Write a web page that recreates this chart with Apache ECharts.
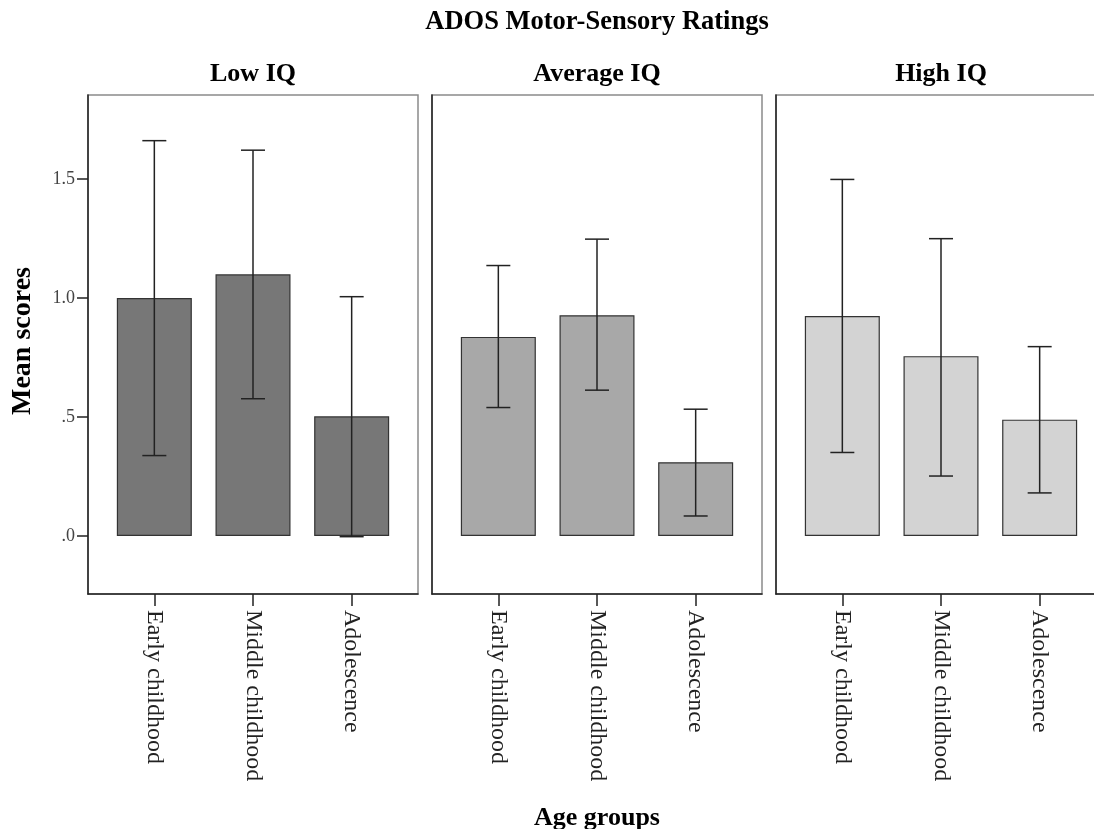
<!DOCTYPE html>
<html>
<head>
<meta charset="utf-8">
<script src="https://cdn.jsdelivr.net/npm/echarts@6/dist/echarts.min.js"></script>
<style>html,body{margin:0;padding:0;background:#fff;}#c{width:1094px;height:829px;}</style>
</head>
<body>
<div id="c"></div>
<script>
const categories = ['Early childhood', 'Middle childhood', 'Adolescence'];
const panels = ['Low IQ', 'Average IQ', 'High IQ'];
const yTicks = [0, 0.5, 1.0, 1.5];
const yMin = -0.244, yMax = 1.854;

const lowMeans  = [1.000, 1.100, 0.503];
const lowLower  = [0.338, 0.577, -0.003];
const lowUpper  = [1.662, 1.622, 1.006];

const avgMeans  = [0.837, 0.928, 0.310];
const avgLower  = [0.540, 0.613, 0.084];
const avgUpper  = [1.137, 1.248, 0.533];

const highMeans = [0.925, 0.756, 0.489];
const highLower = [0.351, 0.252, 0.181];
const highUpper = [1.499, 1.250, 0.796];

const means = [lowMeans, avgMeans, highMeans];
const lowers = [lowLower, avgLower, highLower];
const uppers = [lowUpper, avgUpper, highUpper];
const barColors = ['#777777', '#a8a8a8', '#d3d3d3'];

const SERIF = '"Liberation Serif", "Times New Roman", serif';
const frameLeft = [88, 432, 776];
const frameW = 330, gridTop = 95, gridH = 499, pad = 17;

const grid = [], xAxis = [], yAxis = [], series = [];
for (let p = 0; p < 3; p++) {
  grid.push({left: frameLeft[p], top: gridTop, width: frameW, height: gridH, show: true,
    outerBoundsMode: 'none', containLabel: false,
    borderColor: '#8a8a8a', borderWidth: 1.5, backgroundColor: '#fff'});
  grid.push({left: frameLeft[p] + pad, top: gridTop, width: frameW - 2 * pad, height: gridH,
    outerBoundsMode: 'none', containLabel: false});
}
for (let p = 0; p < 3; p++) {
  const fg = 2 * p, dg = 2 * p + 1;
  xAxis.push({type: 'value', gridIndex: fg, min: 0, max: 1, position: 'bottom',
    axisLine: {show: true, onZero: false, lineStyle: {color: '#222', width: 1.5}},
    axisTick: {show: false}, axisLabel: {show: false}, splitLine: {show: false}});
  yAxis.push({type: 'value', gridIndex: fg, min: yMin, max: yMax, position: 'left',
    axisLine: {show: true, onZero: false, lineStyle: {color: '#222', width: 1.5}},
    axisTick: {show: p === 0, length: 11, lineStyle: {color: '#222', width: 1.5}, customValues: yTicks},
    axisLabel: {show: p === 0, margin: 13, fontFamily: SERIF, fontSize: 18, color: '#444',
      customValues: yTicks,
      formatter: v => { const s = (Math.round(v * 10) / 10).toFixed(1); return s.startsWith('0') ? s.slice(1) : s; }},
    splitLine: {show: false}});
  xAxis.push({type: 'category', gridIndex: dg, data: categories, position: 'bottom',
    axisLine: {show: false, onZero: false},
    axisTick: {show: true, alignWithLabel: true, length: 12, lineStyle: {color: '#222', width: 1.5}},
    axisLabel: {rotate: -90, margin: 16, fontFamily: SERIF, fontSize: 24, color: '#222'}});
  yAxis.push({type: 'value', gridIndex: dg, min: yMin, max: yMax, show: false, splitLine: {show: false}});

  series.push({type: 'bar', xAxisIndex: dg, yAxisIndex: dg,
    data: means[p], barWidth: 75,
    itemStyle: {color: barColors[p], borderColor: '#333', borderWidth: 1.2}});
  series.push({type: 'custom', xAxisIndex: dg, yAxisIndex: dg, z: 5,
    data: categories.map((c, i) => [i, lowers[p][i], uppers[p][i]]),
    renderItem: function (params, api) {
      const lo = api.coord([api.value(0), api.value(1)]);
      const hi = api.coord([api.value(0), api.value(2)]);
      const hw = 12;
      const st = {stroke: '#222', lineWidth: 1.5};
      return {type: 'group', children: [
        {type: 'line', shape: {x1: lo[0], y1: lo[1], x2: hi[0], y2: hi[1]}, style: st},
        {type: 'line', shape: {x1: lo[0] - hw, y1: lo[1], x2: lo[0] + hw, y2: lo[1]}, style: st},
        {type: 'line', shape: {x1: hi[0] - hw, y1: hi[1], x2: hi[0] + hw, y2: hi[1]}, style: st}
      ]};
    }});
}

const textEls = [
  {type: 'text', x: 597, y: 22, style: {text: 'ADOS Motor-Sensory Ratings', font: 'bold 26.5px ' + SERIF, fill: '#000', align: 'center', verticalAlign: 'middle', textAlign: 'center', textVerticalAlign: 'middle'}},
  {type: 'text', x: 597, y: 818, style: {text: 'Age groups', font: 'bold 26px ' + SERIF, fill: '#000', align: 'center', verticalAlign: 'middle', textAlign: 'center', textVerticalAlign: 'middle'}},
  {type: 'text', x: 23, y: 341, rotation: Math.PI / 2, style: {text: 'Mean scores', font: 'bold 28px ' + SERIF, fill: '#000', align: 'center', verticalAlign: 'middle', textAlign: 'center', textVerticalAlign: 'middle'}}
];
for (let p = 0; p < 3; p++) {
  textEls.push({type: 'text', x: frameLeft[p] + frameW / 2, y: 74,
    style: {text: panels[p], font: 'bold 26px ' + SERIF, fill: '#000', align: 'center', verticalAlign: 'middle', textAlign: 'center', textVerticalAlign: 'middle'}});
}

const chart = echarts.init(document.getElementById('c'), null, {renderer: 'canvas'});
chart.setOption({
  animation: false,
  backgroundColor: '#fff',
  grid: grid, xAxis: xAxis, yAxis: yAxis, series: series,
  graphic: {elements: textEls}
});
</script>
</body>
</html>
